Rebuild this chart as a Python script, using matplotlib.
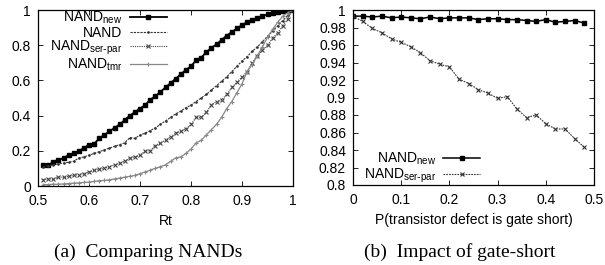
import numpy as np
import matplotlib
matplotlib.use("Agg")
from matplotlib import pyplot as plt

plt.rcParams['font.family'] = ['Liberation Sans', 'DejaVu Sans']

# left panel: reliability vs Rt
rt = np.round(np.arange(0.51, 1.001, 0.01), 2)
nand_new = [0.12, 0.12, 0.135, 0.145, 0.16, 0.175, 0.185, 0.20, 0.215, 0.235,
            0.24, 0.27, 0.29, 0.31, 0.33, 0.35, 0.375, 0.40, 0.42, 0.44,
            0.46, 0.49, 0.51, 0.535, 0.56, 0.585, 0.61, 0.635, 0.66, 0.68,
            0.715, 0.73, 0.76, 0.785, 0.805, 0.83, 0.855, 0.875, 0.895, 0.915,
            0.93, 0.945, 0.955, 0.965, 0.975, 0.985, 0.99, 0.995, 0.998, 1.0]
nand = [0.11, 0.115, 0.12, 0.125, 0.13, 0.135, 0.14, 0.16, 0.165, 0.175,
        0.185, 0.195, 0.205, 0.215, 0.225, 0.235, 0.245, 0.275, 0.27, 0.29,
        0.30, 0.315, 0.33, 0.35, 0.37, 0.39, 0.41, 0.425, 0.445, 0.46,
        0.48, 0.50, 0.52, 0.545, 0.57, 0.595, 0.62, 0.65, 0.68, 0.71,
        0.735, 0.765, 0.79, 0.82, 0.85, 0.88, 0.91, 0.94, 0.97, 1.0]
nand_serpar = [0.035, 0.04, 0.04, 0.05, 0.05, 0.055, 0.06, 0.065, 0.07, 0.08,
               0.09, 0.095, 0.10, 0.11, 0.12, 0.13, 0.14, 0.16, 0.165, 0.175,
               0.20, 0.20, 0.23, 0.245, 0.26, 0.28, 0.30, 0.31, 0.325, 0.35,
               0.39, 0.39, 0.42, 0.46, 0.48, 0.49, 0.52, 0.56, 0.59, 0.62,
               0.65, 0.70, 0.74, 0.77, 0.80, 0.84, 0.87, 0.91, 0.95, 1.0]
nand_tmr = [0.008, 0.008, 0.01, 0.01, 0.012, 0.014, 0.016, 0.018, 0.02, 0.022,
            0.026, 0.03, 0.032, 0.035, 0.04, 0.045, 0.05, 0.055, 0.06, 0.07,
            0.08, 0.09, 0.10, 0.11, 0.12, 0.14, 0.16, 0.165, 0.185, 0.21,
            0.245, 0.26, 0.29, 0.32, 0.35, 0.39, 0.44, 0.48, 0.53, 0.58,
            0.65, 0.69, 0.74, 0.79, 0.845, 0.89, 0.93, 0.965, 0.985, 1.0]

# right panel: reliability vs probability of gate short
p_short = np.round(np.arange(0.0, 0.481, 0.02), 2)
r_new = [0.993, 0.993, 0.992, 0.993, 0.991, 0.992, 0.991, 0.990, 0.992, 0.990,
         0.991, 0.991, 0.991, 0.989, 0.990, 0.990, 0.989, 0.989, 0.988, 0.987,
         0.989, 0.986, 0.987, 0.988, 0.985]
r_serpar = [0.993, 0.987, 0.979, 0.974, 0.967, 0.963, 0.958, 0.951, 0.942, 0.938,
            0.935, 0.921, 0.916, 0.909, 0.905, 0.899, 0.901, 0.887, 0.877, 0.880,
            0.870, 0.864, 0.864, 0.853, 0.843]

W, H = 605, 265
fig = plt.figure(figsize=(W / 100, H / 100), dpi=100)
ax1 = fig.add_axes([38/W, 1 - 186/H, 255/W, 176/H])
ax2 = fig.add_axes([353/W, 1 - 185/H, 241/W, 175/H])

lab_new = 'NAND$_{\\mathregular{new}}$'
lab_sp = 'NAND$_{\\mathregular{ser\\text{-}par}}$'

ax1.plot(rt, nand_new, color='black', lw=1.3, marker='s', ms=2.2,
         label=lab_new)
ax1.plot(rt, nand, color='#333333', lw=0.8, ls=(0, (2, 1)), marker='.', ms=1.8,
         label='NAND')
ax1.plot(rt, nand_serpar, color='#444444', lw=0.8, ls=(0, (1, 1)), marker='x',
         ms=2.8, mew=0.8, label=lab_sp)
ax1.plot(rt, nand_tmr, color='#888888', lw=0.9, marker='+', ms=3.2, mew=0.8,
         label='NAND$_{\\mathregular{tmr}}$')
ax1.set_xlim(0.5, 1.0)
ax1.set_ylim(0, 1)
ax1.set_xticks([0.5, 0.6, 0.7, 0.8, 0.9, 1.0])
ax1.set_xticklabels(['0.5', '0.6', '0.7', '0.8', '0.9', '1'])
ax1.set_yticks([0, 0.2, 0.4, 0.6, 0.8, 1.0])
ax1.set_yticklabels(['0', '0.2', '0.4', '0.6', '0.8', '1'])
ax1.set_xlabel('Rt', fontsize=10, labelpad=4)
ax1.legend(loc='upper right', markerfirst=False, frameon=False, fontsize=10,
           numpoints=1, handlelength=2.7, labelspacing=-0.05, borderpad=0,
           borderaxespad=0, handletextpad=0.5, bbox_to_anchor=(0.506, 1.0))

ax2.plot(p_short, r_new, color='black', lw=1.1, marker='s', ms=2.2,
         label=lab_new)
ax2.plot(p_short, r_serpar, color='#333333', lw=0.8, ls=(0, (1.5, 1)),
         marker='x', ms=2.8, mew=0.8, label=lab_sp)
ax2.set_xlim(0, 0.5)
ax2.set_ylim(0.8, 1.0)
ax2.set_xticks([0, 0.1, 0.2, 0.3, 0.4, 0.5])
ax2.set_xticklabels(['0', '0.1', '0.2', '0.3', '0.4', '0.5'])
ax2.set_yticks(np.round(np.arange(0.8, 1.001, 0.02), 2))
ax2.set_yticklabels(['0.8', '0.82', '0.84', '0.86', '0.88', '0.9',
                     '0.92', '0.94', '0.96', '0.98', '1'])
ax2.set_xlabel('P(transistor defect is gate short)', fontsize=10, labelpad=4)
ax2.legend(loc='lower right', markerfirst=False, frameon=False, fontsize=10,
           numpoints=1, handlelength=2.7, labelspacing=-0.05, borderpad=0,
           borderaxespad=0, handletextpad=0.5, bbox_to_anchor=(0.529, 0.0))

for ax in (ax1, ax2):
    ax.tick_params(axis='both', direction='in', length=3.5, width=0.6,
                   labelsize=10, top=True, right=True)
    ax.tick_params(axis='x', pad=6)
    ax.tick_params(axis='y', pad=5)
    for s in ax.spines.values():
        s.set_linewidth(0.9)

serif = ['Liberation Serif', 'DejaVu Serif']
fig.text(148/W, 1 - 252/H, '(a)  Comparing NANDs', ha='center', va='center',
         fontsize=14, family=serif)
fig.text(460/W, 1 - 252/H, '(b)  Impact of gate-short', ha='center',
         va='center', fontsize=14, family=serif)

fig.savefig('out.png', dpi=100)
